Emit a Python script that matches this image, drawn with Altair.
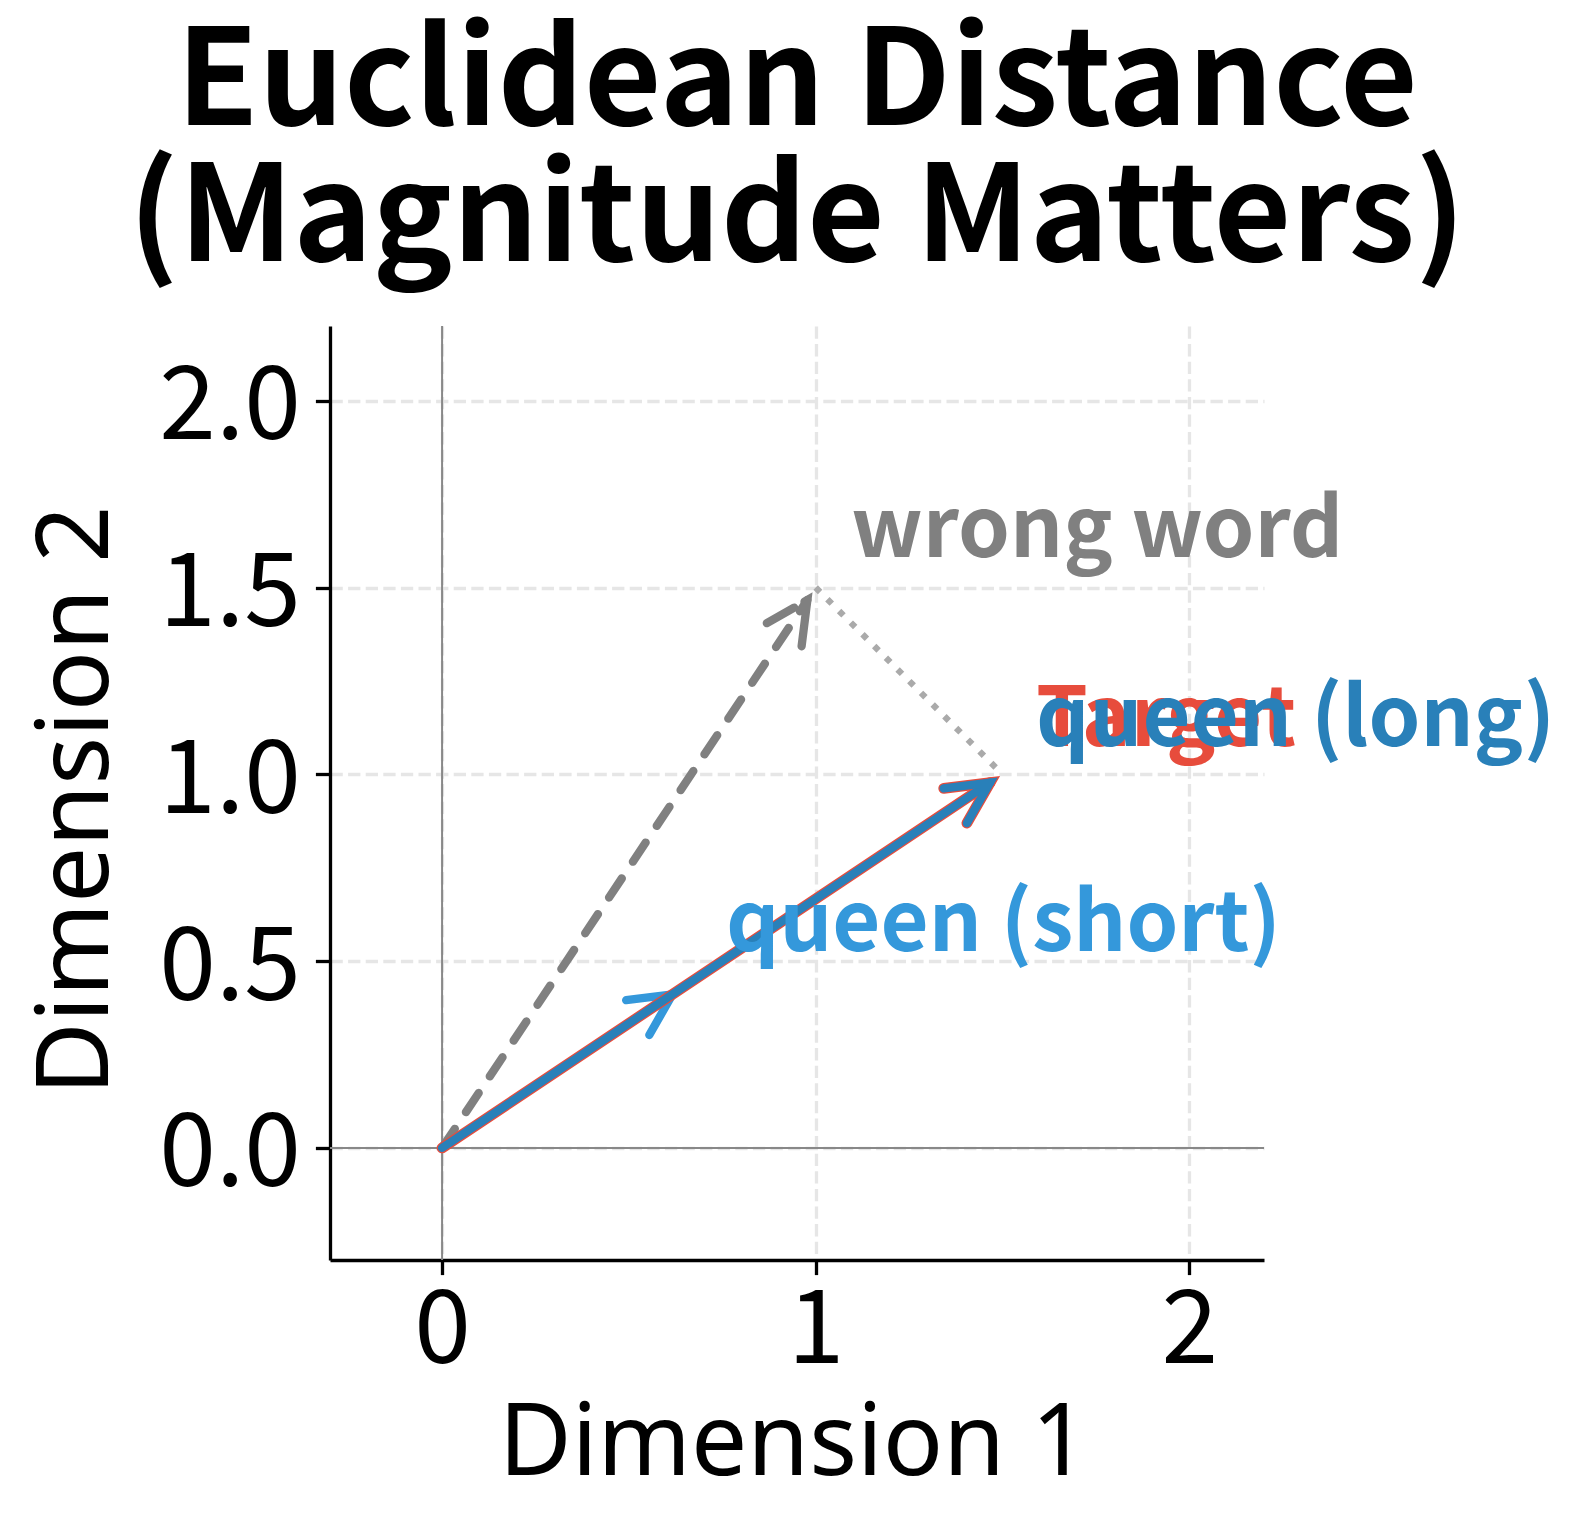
import altair as alt
import numpy as np
import pandas as pd

# ---------------- data ----------------
vec_names = ["wrong word", "queen (short)", "Target", "queen (long)"]
vec_x = [1.0, 0.65, 1.5, 1.5]
vec_y = [1.5, 0.433, 1.0, 1.0]

label_texts = ["wrong word", "queen (short)", "Target", "queen (long)"]
label_x = [1.095, 0.76, 1.59, 1.59]
label_y = [1.583, 0.528, 1.075, 1.075]
label_colors = ["#808080", "#3498db", "#e74c3c", "#2980b9"]

gap_x = [1.0, 1.5]   # dotted "distance" line: wrong word -> target
gap_y = [1.5, 1.0]

x_ticks = [0, 1, 2]
y_ticks = [0.0, 0.5, 1.0, 1.5, 2.0]
x_domain = [-0.3, 2.2]
y_domain = [-0.3, 2.2]

# ---------------- styling ----------------
FONT = "Noto Sans CJK JP"
TITLE_FONT = "Noto Sans"
styles = {
    "wrong word":    dict(color="#808080", width=8.3, dash=[23, 20], head_dash=[50, 12]),
    "queen (short)": dict(color="#3498db", width=8.3, dash=None, head_dash=None),
    "Target":        dict(color="#e74c3c", width=10.8, dash=None, head_dash=None),
    "queen (long)":  dict(color="#2980b9", width=8.3, dash=None, head_dash=None),
}
SHRINK = 0.04      # arrow tip pulled back from the end point (data units)
HEAD = 0.125       # barb length (data units; x and y have the same px/unit)
ANG = np.arctan(0.5)

xscale = alt.Scale(domain=x_domain, nice=False, zero=False)
yscale = alt.Scale(domain=y_domain, nice=False, zero=False)

x_axis = alt.Axis(values=x_ticks, format="d", title="Dimension 1",
                  titleX=463, titleY=214, titleBaseline="alphabetic",
                  labelPadding=7)
y_axis = alt.Axis(values=y_ticks, format=".1f", title="Dimension 2",
                  titleX=-223, titleY=474, titleBaseline="alphabetic",
                  labelPadding=15, labelOffset=7, labelBaseline="middle")


def X(field="x"):
    return alt.X(f"{field}:Q", scale=xscale, axis=x_axis)


def Y(field="y"):
    return alt.Y(f"{field}:Q", scale=yscale, axis=y_axis)


def arrow_frame(vx, vy):
    L = np.hypot(vx, vy)
    ux, uy = vx / L, vy / L
    tx, ty = vx - SHRINK * ux, vy - SHRINK * uy
    rows = [dict(part="shaft", o=0, x=0.0, y=0.0),
            dict(part="shaft", o=1, x=tx, y=ty)]
    bx, by = -ux, -uy
    pts = []
    for s in (1, -1):
        c, sn = np.cos(s * ANG), np.sin(s * ANG)
        pts.append((tx + HEAD * (bx * c - by * sn), ty + HEAD * (bx * sn + by * c)))
    rows += [dict(part="head", o=0, x=pts[0][0], y=pts[0][1]),
             dict(part="head", o=1, x=tx, y=ty),
             dict(part="head", o=2, x=pts[1][0], y=pts[1][1])]
    return pd.DataFrame(rows)


# zero lines
zero_v = alt.Chart(pd.DataFrame({"x": [0.0]})).mark_rule(
    color="#888888", strokeWidth=2).encode(x=X())
zero_h = alt.Chart(pd.DataFrame({"y": [0.0]})).mark_rule(
    color="#888888", strokeWidth=2).encode(y=Y())

# dotted gap line
gap = alt.Chart(pd.DataFrame({"x": gap_x, "y": gap_y, "o": [0, 1]})).mark_line(
    color="#aaaaaa", strokeWidth=6.25, strokeDash=[6.25, 10.3], strokeCap="butt"
).encode(x=X(), y=Y(), order="o:Q")

layers = [zero_v, zero_h, gap]
for name, vx, vy in zip(vec_names, vec_x, vec_y):
    st = styles[name]
    df = arrow_frame(vx, vy)
    if st["dash"]:
        shaft_kw = dict(color=st["color"], strokeWidth=st["width"],
                        strokeCap="round", strokeDash=st["dash"])
        head_kw = dict(color=st["color"], strokeWidth=st["width"],
                       strokeCap="round", strokeJoin="miter",
                       strokeDash=st["head_dash"])
        layers.append(alt.Chart(df[df.part == "shaft"]).mark_line(**shaft_kw).encode(
            x=X(), y=Y(), order="o:Q"))
        layers.append(alt.Chart(df[df.part == "head"]).mark_line(**head_kw).encode(
            x=X(), y=Y(), order="o:Q"))
    else:
        kw = dict(color=st["color"], strokeWidth=st["width"], strokeCap="round",
                  strokeJoin="miter")
        layers.append(alt.Chart(df).mark_line(**kw).encode(
            x=X(), y=Y(), detail="part:N", order="o:Q"))

labels = alt.Chart(pd.DataFrame({"x": label_x, "y": label_y, "t": label_texts,
                                 "c": label_colors})).mark_text(
    align="left", baseline="alphabetic", font=FONT, fontSize=83, fontWeight="bold"
).encode(x=X(), y=Y(), text="t:N", color=alt.Color("c:N", scale=None))
layers.append(labels)

chart = alt.layer(*layers).properties(
    width=934, height=934,
    autosize=alt.AutoSizeParams(type="none"),
    padding={"left": 322, "top": 318, "right": 321, "bottom": 266},
    title=alt.TitleParams(
        text=["Euclidean Distance", "(Magnitude Matters)"],
        font=FONT, fontSize=134, fontWeight="bold", lineHeight=136,
        anchor="middle", baseline="alphabetic", offset=64, dy=134,
        color="black"),
).configure_view(stroke=None).configure_axis(
    domainColor="black", domainWidth=3.3, tickColor="black", tickWidth=3.3,
    tickSize=14.6, labelFont=FONT, labelFontSize=102, labelColor="black",
    titleFont=TITLE_FONT, titleFontSize=100, titleFontWeight="normal",
    titleColor="black",
    grid=True, gridColor="#e6e6e6", gridWidth=3.3, gridDash=[12.3, 5.3],
    labelFlush=False, labelOverlap=False
)

chart.save("out.html", embed_options={"renderer": "svg", "actions": False})
